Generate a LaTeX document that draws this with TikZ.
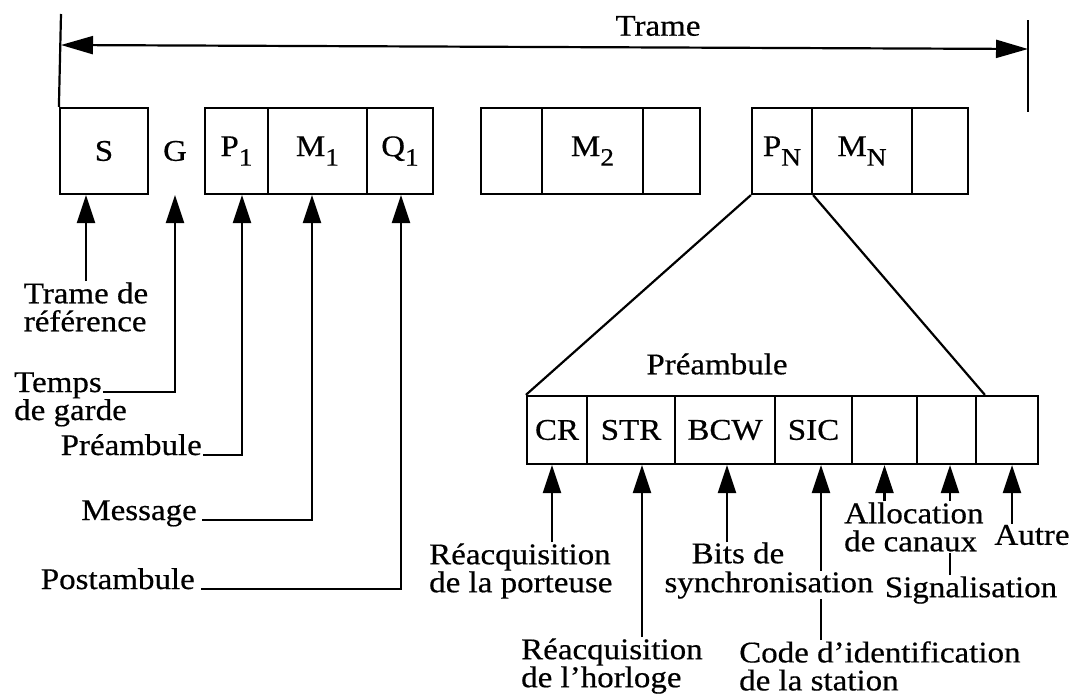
\documentclass[tikz,border=0pt]{standalone}
\usepackage{fontspec}
\setmainfont{Liberation Serif}[FakeStretch=1.1,FakeBold=0.5]
\usetikzlibrary{arrows.meta,calc}
\newcommand\lsub[1]{\raisebox{-0.32em}{\fontsize{25}{25}\selectfont #1}}
\begin{document}
\begin{tikzpicture}[x=1pt,y=-1pt,
  every node/.style={font=\fontsize{30}{28}\selectfont, inner sep=1pt},
  cell/.style={draw, line width=2.2pt, inner sep=0pt, minimum height=86pt},
  pcell/.style={draw, line width=2.2pt, inner sep=0pt, minimum height=68pt},
  lbl/.style={align=left},
  ln/.style={line width=2.2pt},
  arr/.style={line width=2.2pt, -{Triangle[length=28pt,width=18pt]}},
  dbl/.style={line width=2.2pt, {Triangle[length=32pt,width=18pt]}-{Triangle[length=32pt,width=18pt]}}]
\useasboundingbox (0,0) rectangle (1074,696);

% frame extent
\coordinate (ltop) at (61,14);
\coordinate (rtop) at (1028,20);
\coordinate (rbot) at (1028,112);
\coordinate (aL) at (61,45);
\coordinate (aR) at (1028,49);
\node (trame) at (658,26) {Trame};

% top row cells
\node[cell, minimum width=88pt]  (S)   at (104,151)   {S};
\node (G) at (175,151) {G};
\node[cell, minimum width=63pt]  (P1)  at (236.5,151) {P\lsub{1}};
\node[cell, minimum width=99pt]  (M1)  at (317.5,151) {M\lsub{1}};
\node[cell, minimum width=66pt]  (Q1)  at (400,151)   {Q\lsub{1}};
\node[cell, minimum width=61pt]  (A2)  at (511.5,151) {};
\node[cell, minimum width=101pt] (M2)  at (592.5,151) {M\lsub{2}};
\node[cell, minimum width=57pt]  (C2)  at (671.5,151) {};
\node[cell, minimum width=60pt]  (PN)  at (782,151)   {P\lsub{N}};
\node[cell, minimum width=100pt] (MN)  at (862,151)   {M\lsub{N}};
\node[cell, minimum width=56pt]  (CN)  at (940,151)   {};

\draw[ln] (ltop) -- (S.north west);
\draw[ln] (rtop) -- (rbot);
\draw[dbl] (aL) -- (aR);

% left labels
\node[lbl] (tdr) at (86,307) {Trame de\\référence};
\draw[arr] (tdr.north) -- (tdr.north |- S.south);

\node[anchor=base west] (temps) at (13,392) {Temps};
\node[anchor=base west] (garde) at (13,420) {de garde};
\draw[arr] (temps.base east) -| (G.center |- S.south);

\node[anchor=base east] (pre) at (203,455) {Préambule};
\draw[arr] (pre.base east) -| ([xshift=5.5pt]P1.south);

\node[anchor=base east] (msg) at (198,520) {Message};
\draw[arr] ([xshift=4pt]msg.base east) -| ([xshift=-5.5pt]M1.south);

\node[anchor=base east] (post) at (196,589) {Postambule};
\draw[arr] ([xshift=5pt]post.base east) -| ([xshift=1pt]Q1.south);

% preamble detail
\node[pcell, minimum width=60pt]  (CR)  at (557,430)   {CR};
\node[pcell, minimum width=88pt]  (STR) at (631,430)   {STR};
\node[pcell, minimum width=100pt] (BCW) at (725,430)   {BCW};
\node[pcell, minimum width=77pt]  (SIC) at (813.5,430) {SIC};
\node[pcell, minimum width=65pt]  (E1)  at (884.5,430) {};
\node[pcell, minimum width=59pt]  (E2)  at (946.5,430) {};
\node[pcell, minimum width=62pt]  (E3)  at (1007,430)  {};
\node (pretitle) at (717,364) {Préambule};

\draw[ln] (PN.south west) -- (CR.north west);
\draw[ln] (PN.south east) -- ([xshift=10pt]E3.north west);

\node[lbl, anchor=west] (rp) at (428,571) {Réacquisition\\de la porteuse};
\draw[arr] ([xshift=-5pt]CR.south |- rp.north) -- ([xshift=-5pt]CR.south);

\node[lbl, anchor=west] (rh) at (520,666) {Réacquisition\\de l’horloge};
\draw[arr] ([xshift=11pt]STR.south |- rh.north) -- ([xshift=11pt]STR.south);

\node[lbl, anchor=west] (code) at (738,666) {Code d’identification\\de la station};
\draw[arr] ([xshift=7.5pt]SIC.south |- code.north) -- ([xshift=7.5pt]SIC.south);

\node[inner sep=0pt] (bits) at (738,553) {Bits de};
\node[fill=white, inner sep=0pt] (sync) at (769,585) {synchronisation};
\draw[arr] ([xshift=2pt]BCW.south |- bits.north) -- ([xshift=2pt]BCW.south);

\node (sig) at (971,590) {Signalisation};
\draw[arr] ([xshift=3.5pt]E2.south |- sig.north) -- ([xshift=3.5pt]E2.south);

\node[lbl, anchor=west, fill=white] (alloc) at (843,527) {Allocation\\de canaux};
\draw[arr] (E1.south |- alloc.north) -- (E1.south);

\node (autre) at (1032,535) {Autre};
\draw[arr] ([xshift=5pt]E3.south |- autre.north) -- ([xshift=5pt]E3.south);
\end{tikzpicture}
\end{document}
